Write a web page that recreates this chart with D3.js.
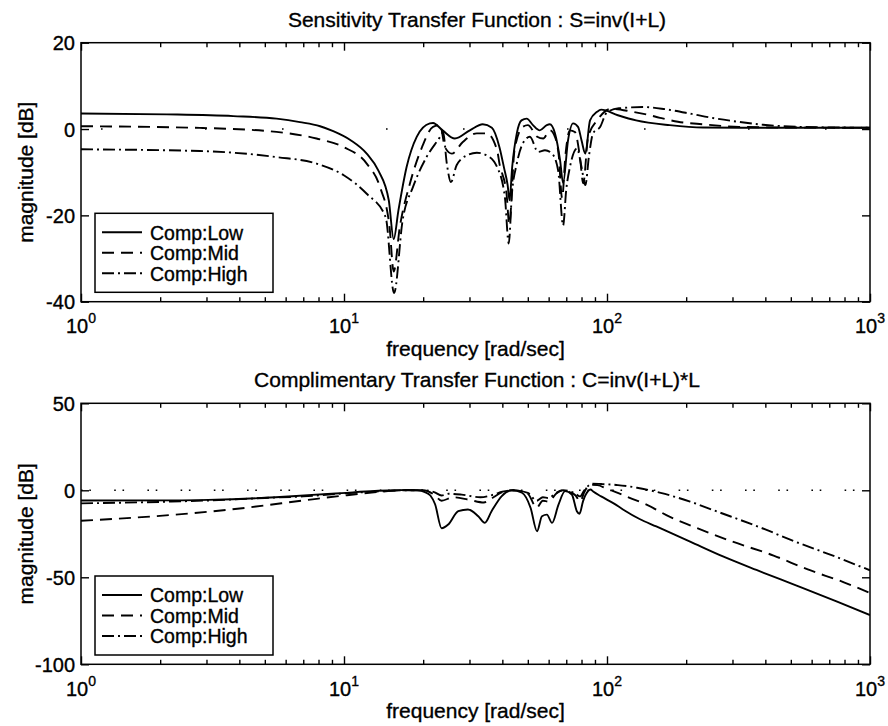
<!DOCTYPE html>
<html>
<head>
<meta charset="utf-8">
<script src="https://cdn.jsdelivr.net/npm/d3@7"></script>
<style>
  html, body { margin: 0; padding: 0; background: #fff; }
  svg text { font-family: "Liberation Sans", Arial, Helvetica, sans-serif; fill: #000; stroke: #000; stroke-width: 0.35px; }
</style>
</head>
<body>
<svg id="chart" width="888" height="726"></svg>
<script>
// ---- Data -------------------------------------------------------------
const seriesNames = ["Comp:Low", "Comp:Mid", "Comp:High"];

// Sensitivity S = inv(I+L), magnitude in dB
const sensLowFreq = [1, 2.12, 3.79, 5.54, 6.8, 8.11, 9.1, 10.6, 12.2, 13.5, 14.8, 15.45, 16.1, 17.3, 18.9, 21.2, 21.8, 23.7, 26.4, 30.1, 33.7, 36.5, 39.0, 40.6, 41.9, 42.6, 43.6, 45.4, 47.3, 49.5, 52.3, 55.5, 59.0, 60.6, 63.4, 66.3, 68.1, 71.1, 74.3, 77.6, 80.0, 82.7, 86.2, 91.7, 95, 110, 129, 173, 232, 400, 1000];
const sensLowDb   = [3.6, 3.4, 3.0, 2.4, 1.6, 0.65, -0.5, -2.6, -5.7, -9.6, -16.5, -25.5, -18.9, -8.8, -1.8, 1.3, 1.4, -0.3, -2.2, -0.3, 1.1, 0.3, -4.2, -9, -13, -16.5, -8.8, -1.0, 2.0, 2.4, 0.9, -0.3, 0.9, 1.1, -1.0, -7.2, -12.5, -2.6, 1.3, 0.5, -2.6, -5.7, 2.0, 4.0, 4.5, 3.2, 2.0, 0.9, 0.35, 0.3, 0.3];

const sensMidFreq = [1, 2.83, 5.54, 7.86, 9.98, 12.2, 13.7, 14.9, 15.45, 16.3, 17.8, 19.8, 21.8, 23.2, 24.2, 25.7, 28.3, 32.0, 34.9, 38.2, 39.0, 41.5, 42.5, 44.5, 47.8, 50.0, 54.3, 57.2, 60.6, 63.4, 65.5, 67.5, 69.5, 72.3, 75.5, 78.9, 81.2, 84.8, 91.7, 104, 125, 141, 159, 186, 232, 318, 500, 1000];
const sensMidDb   = [0.65, 0.26, -0.67, -2.2, -4.2, -8.0, -13.4, -22.7, -33, -22.7, -12.7, -4.2, 0.5, 0.9, -4.2, -5.7, -3.0, -1.0, -1.0, -4.9, -8.0, -15, -22, -4.9, 0.5, 0.9, -1.8, -2.2, -0.3, -1.8, -6, -16, -6, -0.3, -0.7, -6.5, -12.6, -1.8, 2.0, 4.7, 4.0, 3.4, 2.6, 1.7, 1.1, 0.5, 0.35, 0.3];

const sensHighFreq = [1, 2.83, 5.54, 7.86, 9.98, 12.2, 14.4, 15.5, 16.7, 18.3, 20.6, 23.2, 23.8, 24.6, 25.5, 26.8, 29.3, 32.0, 34.9, 38.2, 40.9, 42.3, 43.5, 45.4, 47.8, 50.9, 54.7, 58.1, 61.8, 65.2, 68.1, 70, 72.3, 76.9, 80.0, 82.7, 85.5, 88.5, 94, 100, 111, 137, 166, 210, 250, 314, 392, 540, 1000];
const sensHighDb   = [-4.7, -5.1, -6.5, -8.0, -10.7, -15.0, -20.4, -38, -21.2, -13.4, -6.5, -1.8, -0.7, -8, -12.3, -8.4, -6.1, -5.5, -6.1, -8.8, -15.8, -26.5, -15, -8.0, -3.4, -1.8, -5.3, -4.9, -5.7, -9.6, -22.3, -14, -8.8, -4.5, -8.8, -13, -6, -1.0, 0.4, 3.9, 4.8, 5.1, 4.6, 3.5, 2.6, 1.7, 1.0, 0.5, 0.3];

// Complementary C = inv(I+L)*L, magnitude in dB
const compLowFreq = [1, 2.28, 3.04, 5.5, 7.3, 9.8, 13.1, 15.6, 17.5, 19, 20.3, 21.3, 22.2, 23.5, 24.9, 27.2, 29.6, 32.4, 34.3, 36.4, 39.8, 43.5, 47.5, 51.2, 54.2, 56.6, 59.1, 61.8, 65.4, 69.3, 73.5, 76.8, 78.6, 81.1, 84.7, 86.5, 88.6, 95, 106, 115, 133, 154, 207, 276, 370, 526, 750, 1000];
const compLowDb   = [-5.9, -5.8, -5.5, -4.0, -2.8, -1.6, -0.4, 0, 0.2, 0, -1, -3, -8, -21.8, -19.7, -12, -11, -14.9, -18.7, -12, -3.3, 0, -1.4, -10, -23.5, -14.9, -14, -18.7, -8.2, -0.5, -2.4, -12, -13.5, -6.2, -0.5, 0.5, -0.7, -3.5, -7.5, -11, -16.5, -20.8, -29.5, -38, -45.8, -54.8, -64, -71.7];

const compMidFreq = [1, 2.28, 4.1, 7.3, 10, 13, 17, 20, 22, 23.5, 26, 30, 34, 37, 40, 44, 50, 54, 57, 60, 64, 68, 72, 76, 79, 82, 86, 92, 100, 108, 122, 142, 172, 210, 300, 430, 580, 800, 1000];
const compMidDb   = [-17.5, -14, -10.3, -5.5, -3, -1.2, 0, 0, -2.5, -6, -4, -5.5, -7, -4, -1, 0, -2, -10, -6, -6.5, -2, 0, -1, -3, -6.5, -1, 3.2, 3, 0.8, -1, -4.3, -8.4, -15, -20.5, -29.5, -37.5, -45.5, -53, -59];

const compHighFreq = [1, 2.2, 3.5, 5, 7, 10, 13, 17, 20, 22, 23.5, 25, 28, 33, 37, 40, 44, 50, 54, 57, 60, 64, 68, 72, 76, 79, 82, 88, 95, 110, 130, 160, 207, 260, 400, 500, 750, 1000];
const compHighDb   = [-7.5, -6.5, -5.5, -4.4, -3.5, -1.8, -0.8, 0, 0, -1, -3, -2, -2.5, -4, -2.5, -0.8, 0, -1.5, -6, -4, -4.5, -1.5, 0, -0.5, -2, -3.5, 0, 3.8, 3.6, 3, 1.5, -1.5, -6.5, -12, -22.5, -28.5, -38.5, -46];

// Axis tick values
const freqDecades = [1, 10, 100, 1000];
const decadeExponents = ["0", "1", "2", "3"];
const sensYTicks = [-40, -20, 0, 20];
const compYTicks = [-100, -50, 0, 50];

// ---- Layout & styles --------------------------------------------------
const plotLeft = 81, plotRight = 870;
const lineDashes = [null, "12,7", "12,4,2,4"];
const fontFamily = '"Liberation Sans", Arial, Helvetica, sans-serif';

const svg = d3.select("#chart");
const x = d3.scaleLog().domain([1, 1000]).range([plotLeft, plotRight]);

const minorTicks = [];
[1, 10, 100].forEach(d => { for (let k = 2; k <= 9; k++) minorTicks.push(k * d); });

function zip(f, v) { return f.map((d, i) => [d, v[i]]); }

function drawPanel(cfg, idx) {
  const y = d3.scaleLinear().domain(cfg.yDomain).range([cfg.bottom, cfg.top]);
  const g = svg.append("g");
  const clipId = "clip" + idx;
  g.append("clipPath").attr("id", clipId)
    .append("rect").attr("x", plotLeft).attr("y", cfg.top)
    .attr("width", plotRight - plotLeft).attr("height", cfg.bottom - cfg.top);

  // inward ticks on all four sides
  const styleAxis = sel => { sel.select(".domain").remove(); sel.selectAll("line").attr("stroke", "#000").attr("stroke-width", 1.4); };
  g.append("g").attr("transform", `translate(0,${cfg.bottom})`)
    .call(d3.axisBottom(x).tickValues(freqDecades).tickSize(-8).tickFormat(""))
    .call(styleAxis);
  g.append("g").attr("transform", `translate(0,${cfg.bottom})`)
    .call(d3.axisBottom(x).tickValues(minorTicks).tickSize(-4.5).tickFormat(""))
    .call(styleAxis);
  g.append("g").attr("transform", `translate(0,${cfg.top})`)
    .call(d3.axisTop(x).tickValues(freqDecades).tickSize(-8).tickFormat(""))
    .call(styleAxis);
  g.append("g").attr("transform", `translate(0,${cfg.top})`)
    .call(d3.axisTop(x).tickValues(minorTicks).tickSize(-4.5).tickFormat(""))
    .call(styleAxis);
  const yl = g.append("g").attr("transform", `translate(${plotLeft},0)`)
    .call(d3.axisLeft(y).tickValues(cfg.yTicks).tickSize(-8).tickPadding(6).tickFormat(d => String(d)))
    .call(styleAxis);
  yl.attr("font-size", null).attr("font-family", null);
  yl.selectAll("text").style("font-size", "20px").style("font-family", fontFamily).attr("dy", "0.36em");
  g.append("g").attr("transform", `translate(${plotRight},0)`)
    .call(d3.axisRight(y).tickValues(cfg.yTicks).tickSize(-8).tickFormat(""))
    .call(styleAxis);

  // decade labels 10^n
  freqDecades.forEach((d, i) => {
    const t = g.append("text").attr("x", x(d)).attr("y", cfg.bottom + 31.5)
      .attr("text-anchor", "middle").style("font-size", "20px");
    t.append("tspan").text("10");
    t.append("tspan").attr("dy", -10).style("font-size", "14px").text(decadeExponents[i]);
  });

  // 0 dB reference (sparse dots)
  const line = d3.line().x(d => x(d[0])).y(d => y(d[1])).curve(d3.curveMonotoneX);
  g.append("path").attr("clip-path", `url(#${clipId})`)
    .attr("d", line([[1, 0], [1000, 0]]))
    .attr("fill", "none").attr("stroke", "#000").attr("stroke-width", 1.6)
    .attr("stroke-dasharray", cfg.refDash)
    .attr("stroke-dashoffset", cfg.refOffset);

  // response curves
  cfg.series.forEach((s, i) => {
    g.append("path").attr("clip-path", `url(#${clipId})`)
      .attr("d", line(zip(s[0], s[1])))
      .attr("fill", "none").attr("stroke", "#000").attr("stroke-width", 1.9)
      .attr("stroke-linejoin", "round")
      .attr("stroke-dasharray", lineDashes[i]);
  });

  // frame
  g.append("rect").attr("x", plotLeft).attr("y", cfg.top)
    .attr("width", plotRight - plotLeft).attr("height", cfg.bottom - cfg.top)
    .attr("fill", "none").attr("stroke", "#000").attr("stroke-width", 1.5);

  // title and axis labels
  g.append("text").attr("x", 477).attr("y", cfg.top - 16)
    .attr("text-anchor", "middle").style("font-size", "21px").text(cfg.title);
  g.append("text").attr("x", 475.5).attr("y", cfg.bottom + 54)
    .attr("text-anchor", "middle").style("font-size", "21px").text("frequency [rad/sec]");
  g.append("text").attr("transform", `translate(33,${(cfg.top + cfg.bottom) / 2}) rotate(-90)`)
    .attr("text-anchor", "middle").style("font-size", "21px").text("magnitude [dB]");

  // legend
  const lg = g.append("g").attr("transform", `translate(95,${cfg.legendTop})`);
  lg.append("rect").attr("width", 178).attr("height", 79)
    .attr("fill", "#fff").attr("stroke", "#000").attr("stroke-width", 1.5);
  seriesNames.forEach((name, i) => {
    const ry = 19 + i * 20.5;
    lg.append("line").attr("x1", 7).attr("x2", 47).attr("y1", ry).attr("y2", ry)
      .attr("stroke", "#000").attr("stroke-width", 1.9)
      .attr("stroke-dasharray", lineDashes[i]);
    lg.append("text").attr("x", 55).attr("y", ry).attr("dy", "0.37em")
      .style("font-size", "19.5px").text(name);
  });
}

drawPanel({
  top: 42.7, bottom: 301.7, yDomain: [-40, 20], yTicks: sensYTicks,
  title: "Sensitivity Transfer Function : S=inv(I+L)", legendTop: 213.3,
  refDash: "1.6,75.4,1.6,102.4", refOffset: 57,
  series: [[sensLowFreq, sensLowDb], [sensMidFreq, sensMidDb], [sensHighFreq, sensHighDb]]
}, 0);

drawPanel({
  top: 403.3, bottom: 664.3, yDomain: [-100, 50], yTicks: compYTicks,
  title: "Complimentary Transfer Function : C=inv(I+L)*L", legendTop: 576,
  refDash: "1.6,6.7,1.6,23.3", refOffset: 0,
  series: [[compLowFreq, compLowDb], [compMidFreq, compMidDb], [compHighFreq, compHighDb]]
}, 1);
</script>
</body>
</html>
